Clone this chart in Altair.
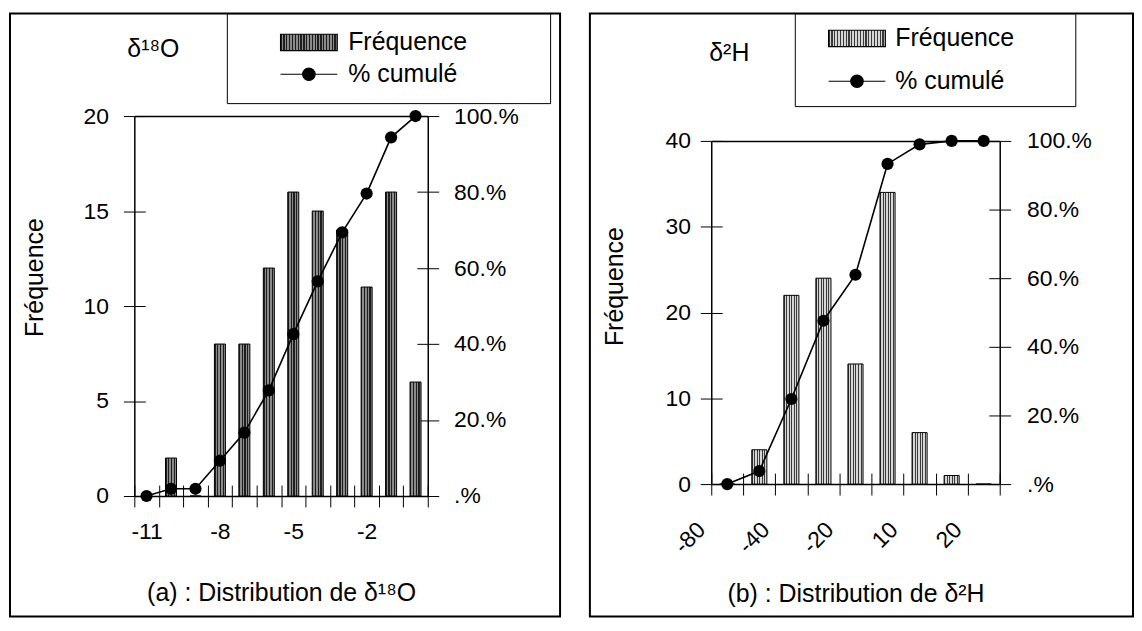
import json
import altair as alt
import pandas as pd

# ---------------- data ----------------
left_labels = ["-11", "", "", "-8", "", "", "-5", "", "", "-2", "", ""]
left_freq = [0, 2, 0, 8, 8, 12, 16, 15, 14, 11, 16, 6]
left_cum = [0, 1.9, 1.9, 9.3, 16.7, 27.8, 42.6, 56.5, 69.4, 79.6, 94.4, 100]
left_freq_ticks = [0, 5, 10, 15, 20]
left_tag = "δ¹⁸O"
left_xtitle = "(a) : Distribution de δ¹⁸O"

right_labels = ["-80", "", "-40", "", "-20", "", "10", "", "20"]
right_freq = [0, 4, 22, 24, 14, 34, 6, 1, 0]
right_cum = [0, 3.8, 24.8, 47.6, 61.0, 93.3, 99.0, 100, 100]
right_freq_ticks = [0, 10, 20, 30, 40]
right_tag = "δ²H"
right_xtitle = "(b) : Distribution de δ²H"

pct_ticks = [0, 20, 40, 60, 80, 100]
pct_labels = [".%", "20.%", "40.%", "60.%", "80.%", "100.%"]
legend_names = ["Fréquence", "% cumulé"]
ytitle = "Fréquence"

FONT = "Liberation Sans"
FS_LABEL = 23
FS_TITLE = 25
FS_LEGEND = 25


def stripe_stops(dark, light, n, dark_frac):
    stops = []
    for k in range(n):
        a = k / n
        m = (k + dark_frac) / n
        b = (k + 1) / n
        stops += [(a, dark), (m, dark), (m, light), (b, light)]
    return stops


def gradient(stops):
    return alt.Gradient(gradient="linear", x1=0, x2=1, y1=0, y2=0,
                        stops=[alt.GradientStop(offset=o, color=c) for o, c in stops])


def gradient_expr(stops):
    s = ",".join("{offset:%g,color:'%s'}" % (o, c) for o, c in stops)
    return {"expr": "{gradient:'linear',x1:0,y1:0,x2:1,y2:0,stops:[%s]}" % s}


RECT_PATH = "M-1,-0.29H1V0.29H-1Z"
DOT_PATH = "M-1,0H1M-0.22,0A0.22,0.22,0,1,1,0.22,0A0.22,0.22,0,1,1,-0.22,0Z"


def panel(labels, freq, cum, fticks, tag, xtitle, g):
    n = len(labels)
    df = pd.DataFrame({"i": list(range(n)), "f": freq, "c": cum})
    W, H = g["W"], g["H"]
    L, R, T, B = g["plot"]
    xscale = alt.Scale(domain=list(range(n)), range=[L, R], paddingInner=0, paddingOuter=0)
    fscale = alt.Scale(domain=[fticks[0], fticks[-1]], range=[B, T], nice=False, zero=True)
    pscale = alt.Scale(domain=[pct_ticks[0], pct_ticks[-1]], range=[B, T], nice=False)
    label_expr = json.dumps(labels) + "[datum.value]"
    pct_expr = json.dumps(pct_labels) + "[indexof(" + json.dumps(pct_ticks) + ", datum.value)]"

    stops = stripe_stops(g["dark"], g["light"], g["nstripes"], g["dfrac"])
    leg_stops = stripe_stops(g["dark"], g["light"], 20, g["dfrac"])

    bars = alt.Chart(df).mark_bar(
        fill=gradient(stops), stroke="black", strokeWidth=1,
        width=alt.RelativeBandSize(g["bw"]),
    ).encode(
        x=alt.X("i:O", scale=xscale, axis=alt.Axis(
            orient="bottom", offset=B - H, tickBand="extent", tickSize=11,
            labelExpr=label_expr, labelPadding=g["xlp"], labelAngle=g["xangle"],
            labelAlign=g["xalign"], labelBaseline=g["xbase"], labelOffset=g["xdx"],
            title=xtitle, titleY=g["xty"], titleBaseline="alphabetic")),
        y=alt.Y("f:Q", scale=fscale, axis=alt.Axis(
            orient="left", offset=-L, values=fticks, tickSize=11, labelPadding=g["ylp"],
            title=ytitle, titleX=g["ytx"], titleY=g["yty"], titleAngle=270,
            titleAlign="center", titleBaseline="middle")),
    )
    line = alt.Chart(df).mark_line(color="black", strokeWidth=1.6).encode(
        x=alt.X("i:O", scale=xscale, axis=None),
        y=alt.Y("c:Q", scale=pscale, axis=alt.Axis(
            orient="right", offset=R - W, values=pct_ticks, labelExpr=pct_expr,
            tickSize=11, labelPadding=g["plp"], title=None)),
    )
    points = alt.Chart(df).mark_point(filled=True, color="black", size=150, opacity=1).encode(
        x=alt.X("i:O", scale=xscale, axis=alt.Axis(
            orient="top", offset=-T, ticks=False, labels=False, domain=True, title=None)),
        y=alt.Y("c:Q", scale=pscale, axis=alt.Axis(
            orient="right", offset=R - 11 - W, values=pct_ticks, tickSize=11,
            labels=False, domain=False, title=None)),
    )
    ghost = alt.Chart(df).mark_point(opacity=0).encode(
        x=alt.X("i:O", scale=xscale, axis=alt.Axis(
            orient="bottom", offset=B - 11 - H, tickBand="extent", tickSize=11,
            labels=False, domain=False, title=None)),
        y=alt.Y("f:Q", scale=fscale, axis=alt.Axis(
            orient="left", offset=-(L + 11), values=fticks, tickSize=11,
            labels=False, domain=False, title=None)),
    )
    lg = alt.Legend(
        orient="none", legendX=g["lx"], legendY=g["ly"], direction="vertical",
        title="\u00a0", titleOrient="right", titlePadding=g["ltp"], titleFontSize=10,
        padding=g["lpad"], strokeColor="black", fillColor="white", cornerRadius=0,
        symbolSize=3249, symbolStrokeWidth=1.2,
        symbolOpacity=1, symbolOffset=g["lso"], labelOffset=g["llo"],
        clipHeight=g["lch"], rowPadding=g["lrp"],
        labelFont=FONT, labelFontSize=FS_LEGEND, labelColor="black",
    )
    leg = alt.Chart(pd.DataFrame({"name": legend_names})).mark_point(
        filled=True, opacity=0).encode(
        fill=alt.Fill("name:N", scale=alt.Scale(domain=legend_names,
                                                range=[gradient_expr(leg_stops), "black"]), legend=lg),
        stroke=alt.Stroke("name:N", scale=alt.Scale(domain=legend_names,
                                                    range=["black", "black"]), legend=lg),
        shape=alt.Shape("name:N", scale=alt.Scale(domain=legend_names,
                                                  range=[RECT_PATH, DOT_PATH]), legend=lg),
    )
    return alt.layer(bars, line, points, ghost, leg).resolve_scale(
        y="independent").resolve_axis(x="independent", y="independent").properties(
        width=W, height=H,
        title=alt.TitleParams(tag, anchor="start", frame="group", orient="top",
                              offset=g["toff"], dx=g["tdx"], font=FONT, fontSize=FS_TITLE,
                              fontWeight="normal", color="black", baseline="alphabetic"),
    )


left_geo = dict(W=553, H=606, plot=(125, 420, 103, 485),
                dark="#1e1e1e", light="#8a8a8a", nstripes=4, dfrac=0.45, bw=0.45,
                xlp=14, xangle=0, xalign="center", xbase="top", xdx=0, xty=105,
                ylp=15, ytx=-100, yty=265, plp=15,
                lx=218, ly=0, ltp=70, lpad=13, lso=40, llo=10, lch=32, lrp=0,
                toff=-69, tdx=118)
right_geo = dict(W=546, H=606, plot=(122, 412, 128, 473),
                 dark="#3a3a3a", light="#d6d6d6", nstripes=6, dfrac=0.4, bw=0.47,
                 xlp=31, xangle=315, xalign="right", xbase="middle", xdx=-26, xty=118,
                 ylp=10, ytx=-97, yty=274, plp=16,
                 lx=206, ly=0, ltp=57, lpad=4, lso=29, llo=9, lch=42, lrp=1,
                 toff=-73, tdx=120)

left = panel(left_labels, left_freq, left_cum, left_freq_ticks, left_tag, left_xtitle, left_geo)
right = panel(right_labels, right_freq, right_cum, right_freq_ticks, right_tag, right_xtitle, right_geo)

chart = alt.hconcat(left, right, spacing=20).resolve_scale(
    fill="independent", stroke="independent", shape="independent",
).resolve_legend(
    fill="independent", stroke="independent", shape="independent",
).properties(
    padding={"left": 1, "top": 2, "right": 0, "bottom": 0},
).configure_view(stroke="black", strokeWidth=2).configure_axis(
    grid=False, labelFont=FONT, labelFontSize=FS_LABEL, labelColor="black",
    titleFont=FONT, titleFontSize=FS_TITLE, titleFontWeight="normal", titleColor="black",
    tickColor="black", tickWidth=1, domainColor="black", domainWidth=1.5,
).configure_legend(titleFont=FONT)

chart.save("out.html", embed_options={"renderer": "svg", "actions": False})
